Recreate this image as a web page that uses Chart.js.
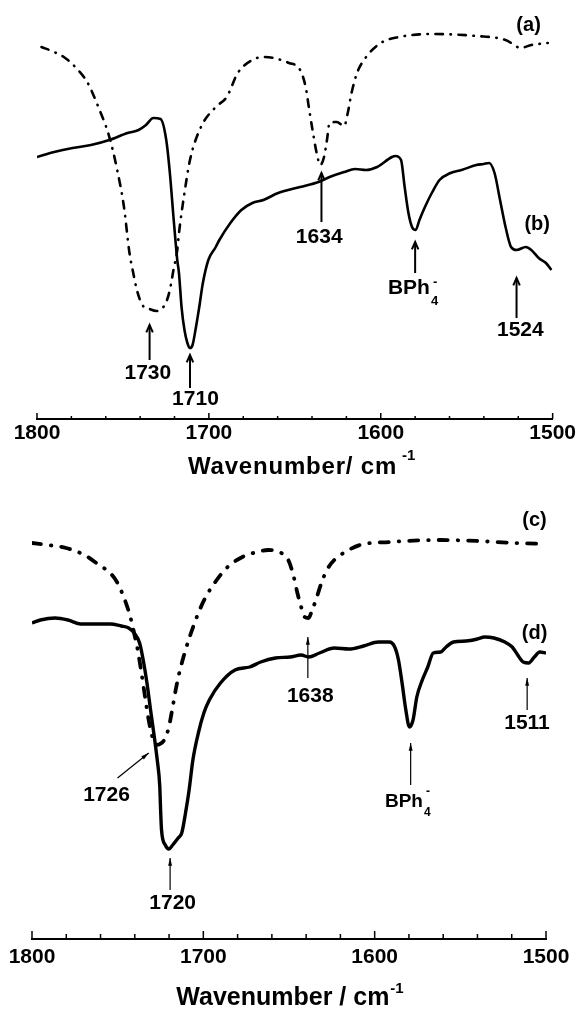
<!DOCTYPE html>
<html>
<head>
<meta charset="utf-8">
<script src="https://cdn.jsdelivr.net/npm/chart.js@4.4.1/dist/chart.umd.min.js"></script>
<style>
  html, body { margin: 0; padding: 0; background: #fff; }
  .panel { position: relative; width: 576px; height: 506px; }
</style>
</head>
<body>
<div class="panel"><canvas id="topChart"></canvas></div>
<div class="panel"><canvas id="bottomChart"></canvas></div>
<script>
const FONT = '"Liberation Sans", Arial, Helvetica, sans-serif';

// ---- top panel: (a) dash-dot, (b) solid; transmittance in arbitrary units ----
const aWn = [1797.4, 1790, 1783.6, 1777.2, 1770.8, 1764.3, 1757.9, 1753.7, 1749.4, 1746.2,
  1744, 1741.9, 1738.7, 1734.5, 1730.2, 1727, 1724.8, 1722.7, 1720.6, 1718.4,
  1717.4, 1714.2, 1711, 1704.6, 1696, 1689.6, 1683.2, 1674.7, 1668.3, 1653.3,
  1646.9, 1643.7, 1641.6, 1639.4, 1637.3, 1635.2, 1633, 1631.3, 1629.8, 1625.6,
  1621.3, 1619.2, 1617, 1613.8, 1608.5, 1600, 1589.3, 1570.1, 1544.4, 1527.4,
  1523.1, 1518.8, 1512.4, 1502.8];
const aT = [372, 367, 361, 351, 337, 312, 282, 252, 212, 166,
  146, 129, 114, 110, 108, 111, 117, 129, 149, 169,
  186, 226, 259, 292, 312, 322, 346, 359, 362, 356,
  349, 332, 309, 286, 266, 254, 262, 279, 296, 297,
  293, 306, 326, 346, 362, 376, 382, 385, 383, 379,
  375, 371, 374, 376];

const bWn = [1800, 1790, 1779.3, 1768.6, 1757.9, 1747.3, 1740.9, 1736.6, 1732.3, 1728.1,
  1724.8, 1722.7, 1720.6, 1718.4, 1717.4, 1715.9, 1714.2, 1712.5, 1711, 1709.5,
  1707.8, 1705.6, 1703.5, 1700.3, 1696, 1693.9, 1687.5, 1681.1, 1674.7, 1668.3,
  1659.7, 1646.9, 1636.2, 1629.8, 1621.3, 1614.9, 1608.5, 1602.1, 1593.5, 1591.4,
  1588.2, 1586.1, 1583.9, 1581.8, 1579.7, 1577.5, 1574.3, 1570, 1565.8, 1559.4,
  1553, 1544.4, 1540.2, 1537, 1533.8, 1530.6, 1527.4, 1524.2, 1521, 1515.6,
  1512.4, 1508.1, 1503.9, 1500.7];
const bT = [262, 267, 271, 274, 279, 286, 289, 294, 301, 300,
  279, 246, 202, 159, 146, 112, 89, 76, 71, 74,
  89, 112, 136, 159, 172, 179, 196, 209, 216, 219,
  226, 232, 237, 242, 247, 250, 249, 252, 262, 263,
  259, 232, 206, 192, 189, 199, 212, 227, 239, 246,
  249, 254, 255, 256, 246, 219, 192, 172, 169, 172,
  169, 161, 156, 149];

// ---- bottom panel: (c) dash-dot, (d) solid ----
const cWn = [1800, 1790.8, 1780.1, 1769.4, 1760.8, 1754.4, 1750.1, 1745.8, 1742.6, 1740.4,
  1738.3, 1736.1, 1734, 1731.9, 1729.7, 1727.6, 1724.4, 1722.2, 1720.1, 1717.9,
  1715.8, 1713.6, 1710.4, 1707.2, 1702.9, 1698.6, 1692.2, 1685.8, 1677.2, 1668.6,
  1662.2, 1655.8, 1650.4, 1647.2, 1645.1, 1642.9, 1640.8, 1638.6, 1636.5, 1634.3,
  1631.1, 1627.9, 1623.6, 1617.2, 1608.6, 1591.5, 1561.5, 1540.1, 1518.6, 1500];
const cT = [396, 394, 391, 384, 374, 366, 356, 339, 322, 306,
  289, 266, 242, 219, 202, 194, 196, 201, 212, 232,
  252, 269, 289, 306, 326, 342, 359, 372, 382, 387,
  389, 387, 379, 362, 346, 332, 322, 321, 329, 339,
  356, 369, 379, 387, 394, 397, 399, 398, 396, 395];

const dWn = [1800, 1795.1, 1786.5, 1779, 1771.5, 1762.9, 1754.4, 1747.9, 1743.6, 1740.4,
  1737.2, 1735.1, 1732.9, 1730.8, 1728.6, 1726.9, 1725.4, 1725, 1724.4, 1722.2,
  1720.1, 1717.9, 1714.7, 1712.6, 1710.4, 1708.3, 1706.1, 1702.9, 1699.7, 1696.5,
  1690, 1681.5, 1672.9, 1666.5, 1657.9, 1649.3, 1642.9, 1638.6, 1632.2, 1623.6,
  1615, 1606.5, 1597.9, 1591.5, 1588.3, 1586.1, 1584, 1581.8, 1579.7, 1577.6,
  1575.4, 1572.2, 1569, 1565.8, 1561.5, 1558.3, 1554, 1546.5, 1540.1, 1535.8,
  1530.4, 1524, 1519.7, 1516.5, 1513.3, 1510.1, 1506.8, 1503.6, 1500];
const dT = [316, 319, 321, 319, 315, 315, 315, 313, 311, 306,
  296, 279, 256, 229, 202, 179, 152, 132, 109, 94,
  90, 94, 101, 106, 126, 149, 179, 206, 226, 239,
  256, 269, 272, 277, 281, 282, 284, 282, 286, 291,
  290, 293, 297, 297, 292, 279, 256, 229, 212, 219,
  242, 259, 272, 286, 287, 292, 297, 298, 300, 302,
  301, 297, 292, 284, 277, 276, 282, 287, 286];

const xTicks = [1800, 1700, 1600, 1500];

function pts(xs, ys) {
  return xs.map((x, i) => ({ x, y: ys[i] }));
}

function arrow(ctx, x1, y1, x2, y2, head) {
  const ang = Math.atan2(y2 - y1, x2 - x1);
  ctx.beginPath();
  ctx.moveTo(x1, y1);
  ctx.lineTo(x2, y2);
  ctx.stroke();
  const ax = x2 - head.len * Math.cos(ang - head.spread);
  const ay = y2 - head.len * Math.sin(ang - head.spread);
  const bx = x2 - head.len * Math.cos(ang + head.spread);
  const by = y2 - head.len * Math.sin(ang + head.spread);
  ctx.beginPath();
  ctx.moveTo(ax, ay);
  ctx.lineTo(x2, y2);
  ctx.lineTo(bx, by);
  if (head.fill) {
    ctx.closePath();
    ctx.fill();
  } else {
    ctx.stroke();
  }
}

// ticks pointing inward, arrows, peak labels and the axis title
const decor = {
  id: 'decor',
  afterDraw(chart, args, o) {
    const { ctx, chartArea } = chart;
    const xs = chart.scales.x, ys = chart.scales.y;
    const base = chartArea.bottom;
    ctx.save();
    ctx.strokeStyle = '#000';
    ctx.fillStyle = '#000';

    ctx.lineWidth = o.tickWidth;
    for (let v = 1500; v <= 1800; v += 20) {
      const px = xs.getPixelForValue(v);
      const len = v % 100 === 0 ? o.majorTick : o.minorTick;
      ctx.beginPath();
      ctx.moveTo(px, base);
      ctx.lineTo(px, base - len);
      ctx.stroke();
    }

    ctx.lineWidth = o.arrowWidth;
    ctx.lineCap = 'butt';
    o.arrows.forEach(a => {
      arrow(ctx,
        xs.getPixelForValue(a.x0 !== undefined ? a.x0 : a.x), ys.getPixelForValue(a.from),
        xs.getPixelForValue(a.x), ys.getPixelForValue(a.to), o.head);
    });

    ctx.textAlign = 'center';
    ctx.textBaseline = 'middle';
    o.labels.forEach(l => {
      ctx.font = 'bold ' + l.size + 'px ' + FONT;
      ctx.fillText(l.text, xs.getPixelForValue(l.x), ys.getPixelForValue(l.y));
    });

    // BPh4- with sub- and superscript
    const b = o.bph;
    const bx = xs.getPixelForValue(b.x), by = ys.getPixelForValue(b.y);
    ctx.font = 'bold ' + b.size + 'px ' + FONT;
    const bw = ctx.measureText('BPh').width;
    ctx.textAlign = 'left';
    ctx.fillText('BPh', bx - bw / 2, by);
    ctx.font = 'bold ' + b.small + 'px ' + FONT;
    ctx.fillText('4', bx + bw / 2 + 1, by + b.sub);
    ctx.fillText('-', bx + bw / 2 + 3, by - b.sup);

    // axis title
    const t = o.title;
    ctx.font = 'bold ' + t.size + 'px ' + FONT;
    ctx.letterSpacing = t.spacing + 'px';
    const tw = ctx.measureText(t.text).width;
    ctx.font = 'bold ' + t.supSize + 'px ' + FONT;
    ctx.letterSpacing = '0px';
    const sw = ctx.measureText(t.sup).width;
    const total = tw + t.gap + sw;
    const left = xs.getPixelForValue(t.x) - total / 2;
    const ty = base + t.dy;
    ctx.font = 'bold ' + t.size + 'px ' + FONT;
    ctx.letterSpacing = t.spacing + 'px';
    ctx.fillText(t.text, left, ty);
    ctx.letterSpacing = '0px';
    ctx.font = 'bold ' + t.supSize + 'px ' + FONT;
    ctx.fillText(t.sup, left + tw + t.gap, ty - t.rise);
    ctx.restore();
  }
};

function makeChart(id, datasets, yMax, pad, tickLine, decorOpts) {
  return new Chart(document.getElementById(id), {
    type: 'line',
    data: { datasets },
    options: {
      responsive: true,
      maintainAspectRatio: false,
      animation: false,
      devicePixelRatio: 1,
      layout: { padding: pad },
      elements: { point: { radius: 0 } },
      scales: {
        x: {
          type: 'linear',
          reverse: true,
          min: 1500,
          max: 1800,
          afterBuildTicks: axis => { axis.ticks = xTicks.map(v => ({ value: v })); },
          grid: { display: false, drawTicks: false },
          border: { display: true, color: '#000', width: 2 },
          ticks: {
            autoSkip: false,
            maxRotation: 0,
            padding: 0,
            color: '#000',
            font: { family: FONT, size: 21, weight: 'bold', lineHeight: tickLine },
            callback: v => String(v)
          }
        },
        y: { display: false, min: 0, max: yMax }
      },
      plugins: {
        legend: { display: false },
        tooltip: { enabled: false },
        decor: decorOpts
      }
    },
    plugins: [decor]
  });
}

makeChart('topChart', [
  {
    data: pts(aWn, aT), borderColor: '#000', borderWidth: 2.6,
    borderDash: [7.5, 7.5, 0.5, 7.5], borderCapStyle: 'round',
    cubicInterpolationMode: 'monotone', fill: false
  },
  {
    data: pts(bWn, bT), borderColor: '#000', borderWidth: 2.6,
    cubicInterpolationMode: 'monotone', fill: false
  }
], 419, { left: 37, right: 22, top: 0, bottom: 59 }, 1.333, {
  tickWidth: 1.5, majorTick: 6, minorTick: 3,
  arrowWidth: 2, head: { len: 8, spread: 0.42, fill: false },
  arrows: [
    { x: 1634.5, from: 197, to: 246 },
    { x: 1580, from: 146, to: 177 },
    { x: 1521, from: 101, to: 141 },
    { x: 1734.5, from: 59, to: 94 },
    { x: 1711, from: 31, to: 64 }
  ],
  labels: [
    { text: '1634', x: 1635.8, y: 182, size: 21 },
    { text: '1524', x: 1518.8, y: 89, size: 21 },
    { text: '1730', x: 1735.5, y: 46, size: 21 },
    { text: '1710', x: 1707.8, y: 20, size: 21 },
    { text: '(a)', x: 1514, y: 394, size: 20 },
    { text: '(b)', x: 1509, y: 195, size: 20 }
  ],
  bph: { x: 1583.6, y: 131, size: 21, small: 13, sub: 13, sup: 6 },
  title: { text: 'Wavenumber/ cm', sup: '-1', x: 1646, dy: 48, size: 24, spacing: 0.8,
    supSize: 15, gap: 5, rise: 11 }
});

makeChart('bottomChart', [
  {
    data: pts(cWn, cT), borderColor: '#000', borderWidth: 3.8,
    borderDash: [9, 10, 0.5, 10], borderCapStyle: 'round',
    cubicInterpolationMode: 'monotone', fill: false
  },
  {
    data: pts(dWn, dT), borderColor: '#000', borderWidth: 3.4,
    cubicInterpolationMode: 'monotone', fill: false
  }
], 433, { left: 32, right: 30, top: 0, bottom: 37 }, 1.714, {
  tickWidth: 1.5, majorTick: 8, minorTick: 5,
  arrowWidth: 1.2, head: { len: 8, spread: 0.25, fill: true },
  arrows: [
    { x: 1639, from: 261, to: 302 },
    { x: 1511, from: 229, to: 261 },
    { x: 1579, from: 154, to: 196 },
    { x0: 1750.1, from: 161, x: 1731.9, to: 186 },
    { x: 1719.4, from: 49, to: 81 }
  ],
  labels: [
    { text: '1638', x: 1637.6, y: 243, size: 21 },
    { text: '1511', x: 1511.1, y: 216, size: 21 },
    { text: '1726', x: 1756.5, y: 144, size: 21 },
    { text: '1720', x: 1717.9, y: 36, size: 21 },
    { text: '(c)', x: 1506.7, y: 419, size: 20 },
    { text: '(d)', x: 1506.7, y: 306, size: 20 }
  ],
  bph: { x: 1582.9, y: 137, size: 19, small: 12, sub: 11, sup: 10 },
  title: { text: 'Wavenumber / cm', sup: '-1', x: 1649.4, dy: 59, size: 25, spacing: 0,
    supSize: 15, gap: 1, rise: 9 }
});
</script>
</body>
</html>
